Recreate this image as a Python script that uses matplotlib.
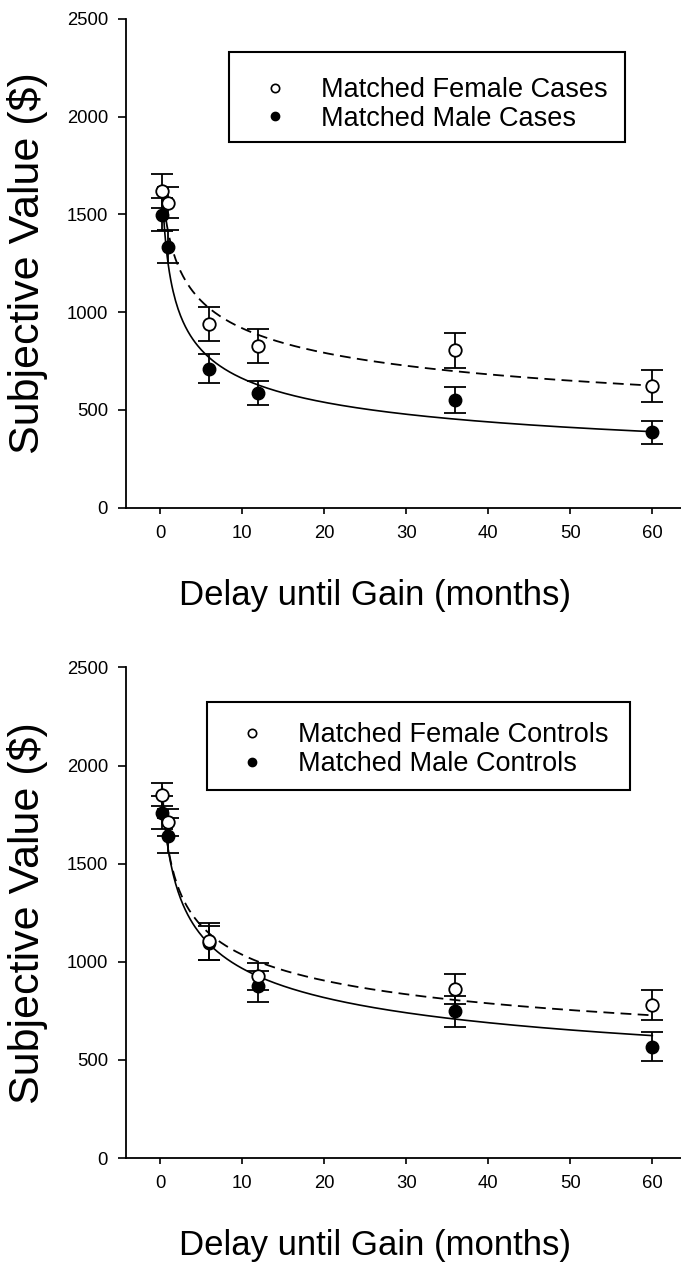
import numpy as np
import matplotlib
matplotlib.use('Agg')
import matplotlib.pyplot as plt
from matplotlib.lines import Line2D
from matplotlib.patches import Rectangle

plt.rcParams['font.family'] = ['Liberation Sans', 'DejaVu Sans']

# delays in months (1 week, 1 month, 6 months, 1, 3, 5 years)
delays = [0.25, 1, 6, 12, 36, 60]

# top panel: cases
cases_female = [1620, 1560, 940, 825, 805, 622]
cases_female_err = [87, 80, 85, 87, 88, 80]
cases_male = [1498, 1336, 712, 585, 552, 385]
cases_male_err = [85, 85, 75, 62, 66, 57]

# bottom panel: controls
controls_female = [1852, 1710, 1104, 926, 861, 781]
controls_female_err = [60, 70, 95, 68, 75, 77]
controls_male = [1759, 1643, 1095, 875, 747, 568]
controls_male_err = [85, 87, 85, 80, 80, 75]

# fitted discount curves V = A / (1 + k D)^s
fit_cases_female = (1794, 2.0, 0.22)
fit_cases_male = (2016, 4.0, 0.30)
fit_controls_female = (2178, 4.0, 0.20)
fit_controls_male = (2069, 2.0, 0.25)

labels_cases = ['Matched Female Cases', 'Matched Male Cases']
labels_controls = ['Matched Female Controls', 'Matched Male Controls']


def curve(p, d):
    A, k, s = p
    return A / (1.0 + k * d) ** s


def draw_panel(ax, fem, fem_err, male, male_err, fit_f, fit_m, labels, box, leg_anchor):
    d = np.linspace(delays[0], delays[-1], 400)
    ax.plot(d, curve(fit_f, d), color='black', lw=1.3, ls=(0, (6, 3.5)), zorder=2)
    ax.plot(d, curve(fit_m, d), color='black', lw=1.2, ls='-', zorder=2)

    ax.errorbar(delays, male, yerr=male_err, fmt='o', color='black',
                mfc='black', mec='black', ms=9, capsize=8, elinewidth=1.3,
                capthick=1.3, zorder=3)
    ax.errorbar(delays, fem, yerr=fem_err, fmt='o', color='black',
                mfc='white', mec='black', mew=1.3, ms=9, capsize=8,
                elinewidth=1.3, capthick=1.3, zorder=4)

    ax.set_xlim(-4.15, 63.5)
    ax.set_ylim(0, 2500)
    ax.set_xticks([0, 10, 20, 30, 40, 50, 60])
    ax.set_yticks([0, 500, 1000, 1500, 2000, 2500])
    ax.spines['top'].set_visible(False)
    ax.spines['right'].set_visible(False)
    for sp in ('left', 'bottom'):
        ax.spines[sp].set_linewidth(1.3)
    ax.tick_params(direction='out', width=1.2, labelsize=13.3)
    ax.tick_params(axis='y', length=6, pad=7)
    ax.tick_params(axis='x', length=4.5, pad=8)

    ax.set_xlabel('Delay until Gain (months)', fontsize=25)
    ax.xaxis.set_label_coords(0.448, -0.179)
    ax.xaxis.label.set_verticalalignment('center')
    ax.set_ylabel('Subjective Value ($)', fontsize=31)
    ax.yaxis.set_label_coords(-0.178, 0.5)
    ax.yaxis.label.set_verticalalignment('center')

    # legend box
    x0, y0, x1, y1 = box
    ax.add_patch(Rectangle((x0, y0), x1 - x0, y1 - y0, transform=ax.transAxes,
                           fill=False, edgecolor='black', lw=1.5, zorder=5,
                           clip_on=False))
    handles = [Line2D([], [], ls='none', marker='o', mfc='white', mec='black', ms=6, mew=1.2),
               Line2D([], [], ls='none', marker='o', mfc='black', mec='black', ms=6)]
    ax.legend(handles, labels, loc='upper left', bbox_to_anchor=leg_anchor,
              fontsize=19.5, frameon=False, handlelength=1.0,
              handletextpad=1.2, labelspacing=0.1, borderpad=0,
              borderaxespad=0)


fig = plt.figure(figsize=(6.81, 12.63), dpi=100)
ax1 = fig.add_axes([0.185, 0.598, 0.815, 0.387])
ax2 = fig.add_axes([0.185, 0.0831, 0.815, 0.3885])

draw_panel(ax1, cases_female, cases_female_err, cases_male, cases_male_err,
           fit_cases_female, fit_cases_male, labels_cases,
           (0.1856, 0.748, 0.899, 0.9325), (0.244, 0.881))
draw_panel(ax2, controls_female, controls_female_err, controls_male, controls_male_err,
           fit_controls_female, fit_controls_male, labels_controls,
           (0.146, 0.751, 0.908, 0.929), (0.2027, 0.888))

plt.savefig('out.png', dpi=100)
